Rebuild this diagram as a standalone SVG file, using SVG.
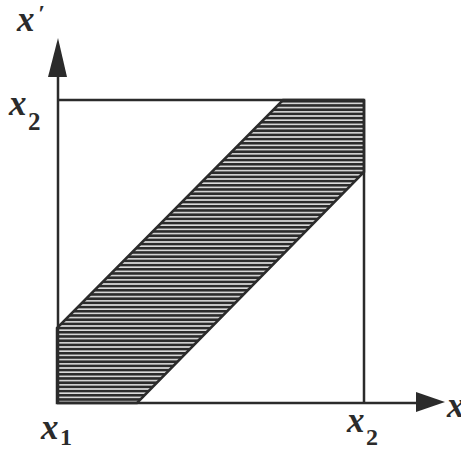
<svg xmlns="http://www.w3.org/2000/svg" width="461" height="450" viewBox="0 0 461 450">
<style>
.ln{stroke:#2b2b2b;stroke-width:2.5;fill:none}
.var{font-family:"Liberation Serif","Times New Roman",serif;font-weight:bold;font-style:italic;fill:#2b2b2b}
.sub{font-family:"Liberation Serif","Times New Roman",serif;font-weight:bold;fill:#2b2b2b}
</style>
<defs>
<pattern id="hatch" patternUnits="userSpaceOnUse" x="0" y="100" width="10" height="4.2">
<rect x="0" y="0" width="10" height="4.2" fill="#dcdcdc"/>
<rect x="0" y="0" width="10" height="2.6" fill="#2b2b2b"/>
</pattern>
</defs>
<rect width="461" height="450" fill="#ffffff"/>
<g id="band">
<polygon points="57,403 137,403 364,172 364,100 283,100 57,328" fill="url(#hatch)" stroke="#2b2b2b" stroke-width="2.5" stroke-linejoin="miter"/>
</g>
<g id="connectors">
<line class="ln" x1="58" y1="403" x2="58" y2="74"/>
<polygon points="58,38 48,77 67,77" fill="#2b2b2b"/>
<line class="ln" x1="57" y1="403" x2="420" y2="403"/>
<polygon points="445,402 416,392 416,412" fill="#2b2b2b"/>
<line class="ln" x1="58" y1="100" x2="364" y2="100"/>
<line class="ln" x1="364" y1="100" x2="364" y2="403"/>
</g>
<g id="labels">
<text class="var" x="17" y="31" font-size="35">x</text>
<text class="var" x="38" y="21" font-size="24">′</text>
<text class="var" x="9" y="115" font-size="35">x</text>
<text class="sub" x="28" y="130" font-size="25">2</text>
<text class="var" x="41" y="439" font-size="35">x</text>
<text class="sub" x="60" y="445" font-size="24">1</text>
<text class="var" x="347" y="432" font-size="35">x</text>
<text class="sub" x="366" y="445" font-size="24">2</text>
<text class="var" x="447" y="417" font-size="35">x</text>
</g>
</svg>
